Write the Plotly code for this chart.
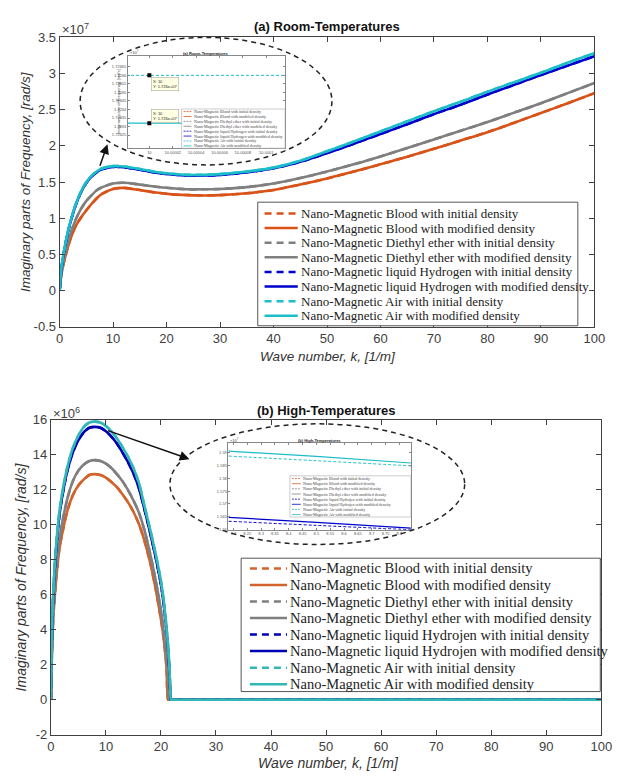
import plotly.graph_objects as go

W, H = 623, 780


def fx(x):
    return x / W


def fy(y):
    return 1 - y / H


# ---------------- Panel (a): Room temperatures (values in units of 1e7 rad/s)
k_room = [0, 0.25, 0.5, 1, 1.5, 2, 3, 4, 5, 6, 7, 8, 10, 12, 15, 18, 21, 24, 27, 30,
          35, 40, 45, 50, 55, 60, 65, 70, 75, 80, 85, 90, 95, 100]
blood_room = [0, 0.18, 0.29, 0.45, 0.59, 0.71, 0.89, 1.01, 1.11, 1.20, 1.28, 1.34,
              1.405, 1.42, 1.39, 1.355, 1.33, 1.32, 1.315, 1.32,
              1.345, 1.39, 1.465, 1.55, 1.645, 1.745, 1.85, 1.96, 2.075, 2.19, 2.32, 2.455, 2.59, 2.73]
diethyl_room = [0, 0.20, 0.32, 0.50, 0.65, 0.78, 0.98, 1.13, 1.24, 1.32, 1.39, 1.43,
                1.48, 1.49, 1.465, 1.435, 1.415, 1.40, 1.40, 1.405,
                1.43, 1.48, 1.555, 1.645, 1.745, 1.855, 1.97, 2.09, 2.21, 2.33, 2.46, 2.59, 2.73, 2.87]
hydrogen_room = [0, 0.24, 0.39, 0.61, 0.79, 0.94, 1.18, 1.36, 1.49, 1.58, 1.64, 1.68,
                 1.71, 1.705, 1.67, 1.63, 1.605, 1.59, 1.59, 1.60,
                 1.635, 1.69, 1.78, 1.90, 2.03, 2.165, 2.30, 2.44, 2.57, 2.71, 2.845, 2.98, 3.11, 3.24]
air_room = [0, 0.25, 0.40, 0.62, 0.80, 0.95, 1.19, 1.37, 1.50, 1.59, 1.65, 1.69,
            1.72, 1.715, 1.68, 1.64, 1.615, 1.60, 1.60, 1.61,
            1.645, 1.70, 1.795, 1.925, 2.06, 2.20, 2.34, 2.48, 2.61, 2.75, 2.88, 3.01, 3.15, 3.28]
# initial-density curves coincide with the modified ones at this scale
blood_room_init = blood_room
diethyl_room_init = diethyl_room
hydrogen_room_init = hydrogen_room
air_room_init = air_room

# ---------------- Panel (b): High temperatures (values in units of 1e6 rad/s)
k_high = [0, 0.25, 0.5, 1, 1.5, 2, 3, 4, 5, 6, 7, 8, 9, 10, 11, 12, 13, 14, 15, 16, 17, 18, 19, 20,
          20.5, 21, 21.3, 21.5, 21.7, 21.8, 22, 100]
blood_high = [0, 3.3, 5.0, 7.0, 8.5, 9.4,
              10.8, 11.7, 12.25, 12.6, 12.85, 12.9, 12.85, 12.7, 12.45, 12.15, 11.75, 11.3, 10.75, 10.05, 9.1, 7.9, 6.4, 4.6,
              3.5, 1.9, 0, 0, 0, 0, 0, 0]
diethyl_high = [0, 3.5, 5.3, 7.5, 9.0, 10.0,
                11.5, 12.5, 13.1, 13.45, 13.65, 13.7, 13.65, 13.5, 13.25, 12.9, 12.5, 12.0, 11.4, 10.7, 9.7, 8.4, 6.9, 5.1,
                3.9, 2.4, 1.2, 0, 0, 0, 0, 0]
hydrogen_high = [0, 4.3, 6.3, 8.8, 10.4, 11.5,
                 13.1, 14.15, 14.85, 15.3, 15.55, 15.6, 15.55, 15.35, 15.05, 14.65, 14.15, 13.6, 12.95, 12.1, 10.9, 9.6, 8.2, 6.6,
                 5.5, 4.0, 2.9, 1.9, 0.5, 0, 0, 0]
air_high = [0, 4.5, 6.5, 9.0, 10.6, 11.7,
            13.3, 14.4, 15.1, 15.6, 15.85, 15.9, 15.85, 15.65, 15.35, 14.95, 14.45, 13.9, 13.25, 12.4, 11.1, 9.8, 8.4, 6.8,
            5.7, 4.2, 3.1, 2.1, 0.6, 0, 0, 0]
blood_high_init = blood_high
diethyl_high_init = diethyl_high
hydrogen_high_init = hydrogen_high
air_high_init = air_high

# ---------------- Zoomed insets
inset_a_k = [9.99998, 10.00012]
inset_a_air_init = [1.72660, 1.72660]
inset_a_air_mod = [1.72632, 1.72632]
inset_a_tip_k = [10, 10]
inset_a_tip_val = [1.72660, 1.72632]
inset_a_xticks = [10, 10.00002, 10.00004, 10.00006, 10.00008, 10.0001]
inset_a_xtext = ["10", "10.00002", "10.00004", "10.00006", "10.00008", "10.0001"]
inset_a_yticks = [1.72625, 1.7263, 1.72635, 1.7264, 1.72645, 1.7265, 1.72655, 1.7266, 1.72665]

inset_b_k = [8.182, 8.5, 8.842]
inset_b_air_mod = [1.5905, 1.5885, 1.5859]
inset_b_air_init = [1.5886, 1.5868, 1.5848]
inset_b_hyd_mod = [1.5648, 1.5629, 1.5606]
inset_b_hyd_init = [1.5633, 1.5617, 1.5600]
inset_b_xticks = [8.2, 8.25, 8.3, 8.35, 8.4, 8.45, 8.5, 8.55, 8.6, 8.65, 8.7, 8.75, 8.8]
inset_b_yticks = [1.56, 1.565, 1.57, 1.575, 1.58, 1.585, 1.59]

# ---------------- Series names / colours
materials = ["Blood", "Diethyl ether", "liquid Hydrogen", "Air"]
materials_b = ["Blood", "Diethyl ether", "liquid Hydrojen", "Air"]
colors = ["#D95319", "#7F7F7F", "#0000CD", "#1CBDC8"]
colors_b = ["#D2632C", "#7F7F7F", "#0000B4", "#33B8B8"]

room_mod = [blood_room, diethyl_room, hydrogen_room, air_room]
room_init = [blood_room_init, diethyl_room_init, hydrogen_room_init, air_room_init]
high_mod = [blood_high, diethyl_high, hydrogen_high, air_high]
high_init = [blood_high_init, diethyl_high_init, hydrogen_high_init, air_high_init]

fig = go.Figure()

DASH = "7px,5px"
for m, c, yi, ym in zip(materials, colors, room_init, room_mod):
    fig.add_trace(go.Scatter(x=k_room, y=yi, mode="lines", line=dict(color=c, width=2.6, dash=DASH, shape="spline", smoothing=0.8),
                             name=f"Nano-Magnetic {m} with initial density", xaxis="x", yaxis="y", showlegend=False))
    fig.add_trace(go.Scatter(x=k_room, y=ym, mode="lines", line=dict(color=c, width=2.6, shape="spline", smoothing=0.8),
                             name=f"Nano-Magnetic {m} with modified density", xaxis="x", yaxis="y", showlegend=False))

for m, c, yi, ym in zip(materials_b, colors_b, high_init, high_mod):
    fig.add_trace(go.Scatter(x=k_high, y=yi, mode="lines", line=dict(color=c, width=2.6, dash=DASH, shape="spline", smoothing=0.6),
                             name=f"Nano-Magnetic {m} with initial density", xaxis="x2", yaxis="y2", showlegend=False))
    fig.add_trace(go.Scatter(x=k_high, y=ym, mode="lines", line=dict(color=c, width=2.6, shape="spline", smoothing=0.6),
                             name=f"Nano-Magnetic {m} with modified density", xaxis="x2", yaxis="y2", showlegend=False))

# inset (a)
fig.add_trace(go.Scatter(x=inset_a_k, y=inset_a_air_init, mode="lines", line=dict(color=colors[3], width=1, dash="3px,2px"),
                         xaxis="x3", yaxis="y3", showlegend=False))
fig.add_trace(go.Scatter(x=inset_a_k, y=inset_a_air_mod, mode="lines", line=dict(color=colors[3], width=1.2),
                         xaxis="x3", yaxis="y3", showlegend=False))
fig.add_trace(go.Scatter(x=inset_a_tip_k, y=inset_a_tip_val, mode="markers", marker=dict(color="black", size=4, symbol="square"),
                         xaxis="x3", yaxis="y3", showlegend=False))
# inset (b)
fig.add_trace(go.Scatter(x=inset_b_k, y=inset_b_air_init, mode="lines", line=dict(color=colors[3], width=1, dash="3px,2px", shape="spline"),
                         xaxis="x4", yaxis="y4", showlegend=False))
fig.add_trace(go.Scatter(x=inset_b_k, y=inset_b_air_mod, mode="lines", line=dict(color=colors[3], width=1.2, shape="spline"),
                         xaxis="x4", yaxis="y4", showlegend=False))
fig.add_trace(go.Scatter(x=inset_b_k, y=inset_b_hyd_init, mode="lines", line=dict(color=colors[2], width=1, dash="3px,2px", shape="spline"),
                         xaxis="x4", yaxis="y4", showlegend=False))
fig.add_trace(go.Scatter(x=inset_b_k, y=inset_b_hyd_mod, mode="lines", line=dict(color=colors[2], width=1.2, shape="spline"),
                         xaxis="x4", yaxis="y4", showlegend=False))

AX = "#404040"
TICKFONT = dict(family="Liberation Sans, Arial", size=13, color=AX)
base = dict(showline=True, linecolor=AX, linewidth=1, mirror="ticks", ticks="inside", ticklen=5,
            tickcolor=AX, showgrid=False, zeroline=False, tickfont=TICKFONT)
small = dict(showline=True, linecolor="#888", linewidth=0.6, mirror="ticks", ticks="inside", ticklen=2,
             tickcolor="#888", showgrid=False, zeroline=False, tickfont=dict(family="Liberation Sans, Arial", size=4, color="#555"))

x_ticks = list(range(0, 101, 10))
ya_ticks = [-0.5, 0, 0.5, 1, 1.5, 2, 2.5, 3, 3.5]
ya_text = ["-0.5", "0", "0.5", "1", "1.5", "2", "2.5", "3", "3.5"]
yb_ticks = [-2, 0, 2, 4, 6, 8, 10, 12, 14, 16]
yb_text = ["-2", "0", "2", "4", "6", "8", "10", "12", "14", "16"]

fig.update_layout(
    width=W, height=H, margin=dict(l=0, r=0, t=0, b=0),
    paper_bgcolor="white", plot_bgcolor="white", showlegend=False,
    xaxis=dict(base, domain=[fx(57), fx(605)], anchor="y", range=[0, 100], tickvals=x_ticks),
    yaxis=dict(base, domain=[fy(326), fy(31)], anchor="x", range=[-0.5, 3.5], tickvals=ya_ticks, ticktext=ya_text),
    xaxis2=dict(base, domain=[fx(48), fx(612)], anchor="y2", range=[0, 100], tickvals=x_ticks),
    yaxis2=dict(base, domain=[fy(742), fy(421)], anchor="x2", range=[-2, 16], tickvals=yb_ticks, ticktext=yb_text),
    xaxis3=dict(small, domain=[fx(127), fx(288)], anchor="y3", range=[9.9999817, 10.000116],
                tickvals=inset_a_xticks, ticktext=inset_a_xtext),
    yaxis3=dict(small, domain=[fy(144), fy(50)], anchor="x3", range=[1.726173, 1.726713],
                tickvals=inset_a_yticks, ticktext=[f"{v:.5f}".rstrip("0") for v in inset_a_yticks]),
    xaxis4=dict(small, domain=[fx(230), fx(417)], anchor="y4", range=[8.182, 8.842], tickvals=inset_b_xticks),
    yaxis4=dict(small, domain=[fy(533), fy(445)], anchor="x4", range=[1.5600, 1.5935], tickvals=inset_b_yticks),
)


def ann(x, y, text, size, color="#333", anchor="center", angle=0, family="Liberation Sans, Arial", **kw):
    fig.add_annotation(x=fx(x), y=fy(y), xref="paper", yref="paper", text=text, showarrow=False,
                       xanchor=anchor, yanchor="middle", textangle=angle,
                       font=dict(family=family, size=size, color=color), **kw)


# titles and axis labels
ann(331, 20, "<b>(a) Room-Temperatures</b>", 13, "#111")
ann(330, 411, "<b>(b) High-Temperatures</b>", 13, "#111")
ann(22, 178, "<i>Imaginary parts of Frequency, [rad/s]</i>", 13.5, "#333", angle=-90)
ann(17, 581, "<i>Imaginary parts of Frequency, [rad/s]</i>", 14, "#333", angle=-90)
ann(332, 356, "<i>Wave number, k, [1/m]</i>", 13.5, "#333")
ann(332, 771, "<i>Wave number, k, [1/m]</i>", 14, "#333")
ann(57, 22, "×10<sup>7</sup>", 13, AX, anchor="left")
ann(48, 414, "×10<sup>6</sup>", 13, AX, anchor="left")

# inset decorations
ann(207, 47, "<b>(a) Room-Temperatures</b>", 4, "#222")
ann(323, 442, "<b>(b) High-Temperatures</b>", 4, "#222")
ann(117, 97, "Imaginary parts of Frequency, [rad/s]", 4, "#444", angle=-90)
ann(127, 46, "×10<sup>7</sup>", 4, "#444", anchor="left")
ann(230, 441, "×10<sup>7</sup>", 4, "#444", anchor="left")
for (tx, ty) in [(151, 79), (151, 111)]:
    fig.add_annotation(x=fx(tx), y=fy(ty), xref="paper", yref="paper", showarrow=False, xanchor="left",
                       yanchor="middle", align="left", text="X: 10<br>Y: 1.726e+07",
                       font=dict(family="Liberation Sans, Arial", size=4, color="#222"),
                       bgcolor="#FFFFE1", bordercolor="#999", borderwidth=0.5, borderpad=1.5)

# ellipses and arrows
for (x0, y0, x1, y1) in [(78, 31, 336, 161), (170, 425, 472, 548)]:
    fig.add_shape(type="circle", xref="paper", yref="paper", x0=fx(x0), x1=fx(x1), y0=fy(y1), y1=fy(y0),
                  line=dict(color="#222", width=1.5, dash="5px,4px"), layer="above")
fig.add_annotation(x=fx(106), y=fy(140), xref="paper", yref="paper", ax=-8, ay=23, text="", showarrow=True,
                   arrowhead=2, arrowsize=1.3, arrowwidth=1.5, arrowcolor="#111")
fig.add_annotation(x=fx(190), y=fy(461), xref="paper", yref="paper", ax=-83, ay=-29, text="", showarrow=True,
                   arrowhead=2, arrowsize=1.3, arrowwidth=1.5, arrowcolor="#111")


def add_legend(box, row0, step, sx0, sx1, tx, fsize, names, cols, lw, dash, border="#555", bw=1, color="#222"):
    x0, y0, x1, y1 = box
    fig.add_shape(type="rect", xref="paper", yref="paper", x0=fx(x0), x1=fx(x1), y0=fy(y1), y1=fy(y0),
                  line=dict(color=border, width=bw), fillcolor="white", layer="above")
    i = 0
    for name, col in zip(names, cols):
        for kind in ("initial", "modified"):
            yc = row0 + step * i
            fig.add_shape(type="line", xref="paper", yref="paper", x0=fx(sx0), x1=fx(sx1), y0=fy(yc), y1=fy(yc),
                          line=dict(color=col, width=lw, dash=dash if kind == "initial" else "solid"), layer="above")
            ann(tx, yc, f"Nano-Magnetic {name} with {kind} density", fsize, color, anchor="left",
                family="Liberation Serif, Times New Roman")
            i += 1


add_legend((260, 199, 588, 325), 210.5, 14.9, 267, 301, 302, 13, materials, colors, 2.5, DASH)
add_legend((243, 562, 611, 698), 572.5, 16.85, 252, 290, 291, 14.5, materials_b, colors_b, 2.5, DASH)
add_legend((182, 104, 288, 144), 106.6, 5.0, 184, 192, 192.5, 4, materials, colors, 0.8, "2px,1px",
           border="#999", bw=0.5, color="#444")
add_legend((293, 478, 417, 520), 480.8, 5.25, 295, 304, 304.5, 4, materials_b, colors_b, 0.8, "2px,1px",
           border="#999", bw=0.5, color="#444")

fig.write_html("out.html")
